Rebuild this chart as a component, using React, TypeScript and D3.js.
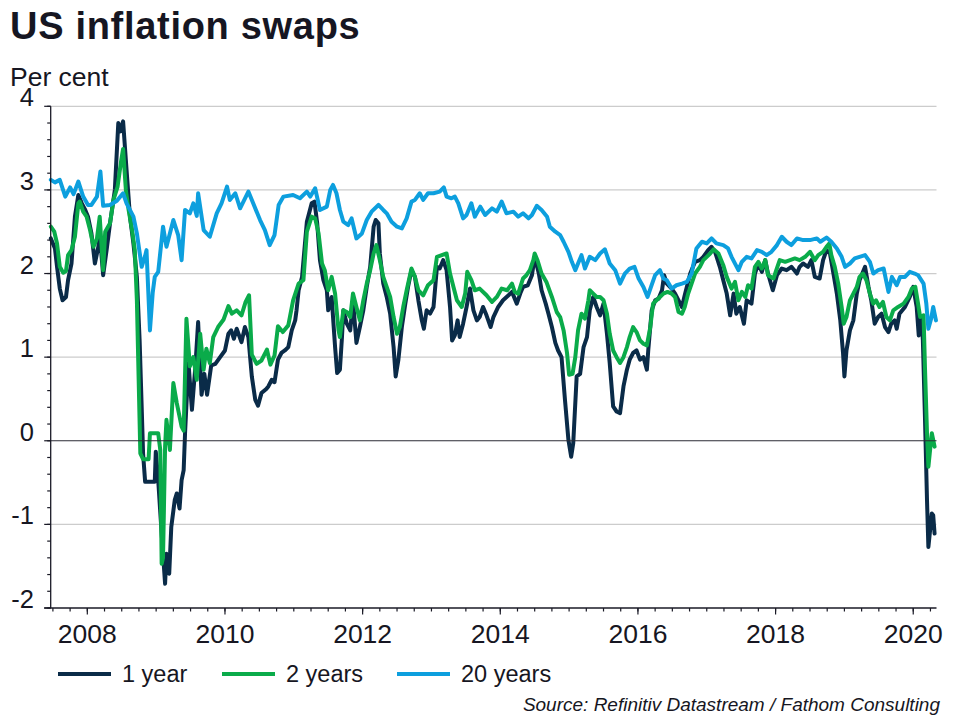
import React from "react";
import * as d3 from "d3";

// ---- Data (decimal year, per cent) ----
const oneYear: [number, number][] = [
  [2007.47,2.42],[2007.53,2.30],[2007.56,2.08],[2007.60,1.82],[2007.64,1.68],[2007.69,1.72],[2007.72,1.92],[2007.77,2.12],[2007.82,2.68],[2007.87,2.94],[2007.92,2.84],[2007.97,2.76],[2008.01,2.68],[2008.06,2.48],[2008.11,2.12],[2008.16,2.32],[2008.18,2.48],[2008.23,1.98],[2008.28,2.28],[2008.33,2.60],[2008.40,3.00],[2008.45,3.80],[2008.48,3.70],[2008.52,3.82],[2008.57,3.24],[2008.62,2.68],[2008.67,2.36],[2008.72,1.96],[2008.76,1.20],[2008.79,0.40],[2008.81,-0.15],[2008.84,-0.49],[2008.98,-0.49],[2008.995,-0.13],[2009.03,-0.47],[2009.08,-1.11],[2009.13,-1.71],[2009.15,-1.35],[2009.19,-1.59],[2009.22,-1.03],[2009.27,-0.71],[2009.30,-0.63],[2009.34,-0.81],[2009.37,-0.47],[2009.40,-0.35],[2009.42,0.09],[2009.47,0.93],[2009.52,0.37],[2009.57,0.89],[2009.61,1.42],[2009.66,0.55],[2009.70,0.80],[2009.74,0.55],[2009.80,0.90],[2009.86,0.92],[2009.93,1.00],[2010.00,1.08],[2010.05,1.28],[2010.09,1.32],[2010.13,1.22],[2010.17,1.34],[2010.24,1.18],[2010.29,1.36],[2010.34,1.24],[2010.39,0.77],[2010.44,0.49],[2010.48,0.42],[2010.53,0.57],[2010.60,0.62],[2010.63,0.65],[2010.68,0.73],[2010.72,0.70],[2010.77,0.97],[2010.82,1.05],[2010.87,1.08],[2010.92,1.12],[2010.97,1.32],[2011.02,1.44],[2011.04,1.56],[2011.07,1.80],[2011.12,1.96],[2011.19,2.62],[2011.26,2.84],[2011.30,2.86],[2011.34,2.60],[2011.38,2.16],[2011.43,1.92],[2011.48,1.80],[2011.50,1.56],[2011.55,1.72],[2011.60,1.12],[2011.63,0.81],[2011.67,0.85],[2011.70,1.24],[2011.72,1.56],[2011.77,1.40],[2011.82,1.32],[2011.86,1.68],[2011.91,1.17],[2011.96,1.36],[2012.01,1.56],[2012.06,1.84],[2012.11,2.08],[2012.16,2.56],[2012.19,2.64],[2012.23,2.60],[2012.25,2.24],[2012.30,1.88],[2012.35,1.72],[2012.40,1.52],[2012.45,1.12],[2012.48,0.77],[2012.52,0.97],[2012.57,1.36],[2012.62,1.64],[2012.66,1.84],[2012.71,2.04],[2012.76,1.96],[2012.81,1.68],[2012.86,1.44],[2012.89,1.34],[2012.93,1.56],[2012.98,1.52],[2013.03,1.60],[2013.08,2.08],[2013.12,2.06],[2013.17,2.16],[2013.22,2.04],[2013.27,1.60],[2013.30,1.20],[2013.34,1.26],[2013.38,1.44],[2013.41,1.24],[2013.46,1.40],[2013.51,1.60],[2013.56,1.82],[2013.61,1.56],[2013.66,1.44],[2013.70,1.48],[2013.75,1.60],[2013.80,1.50],[2013.86,1.36],[2013.90,1.48],[2013.97,1.60],[2014.04,1.68],[2014.12,1.74],[2014.17,1.78],[2014.21,1.70],[2014.24,1.64],[2014.29,1.76],[2014.33,1.84],[2014.40,1.86],[2014.46,1.98],[2014.50,2.20],[2014.56,2.00],[2014.60,1.80],[2014.66,1.64],[2014.70,1.52],[2014.75,1.36],[2014.80,1.17],[2014.84,1.08],[2014.89,1.00],[2014.94,0.49],[2014.99,0.01],[2015.03,-0.19],[2015.06,-0.03],[2015.11,0.77],[2015.16,0.80],[2015.21,1.12],[2015.26,1.24],[2015.30,1.56],[2015.35,1.72],[2015.40,1.60],[2015.45,1.50],[2015.50,1.64],[2015.55,1.28],[2015.59,0.93],[2015.64,0.41],[2015.69,0.35],[2015.74,0.33],[2015.79,0.65],[2015.84,0.85],[2015.88,0.97],[2015.93,1.05],[2015.98,1.08],[2016.03,0.97],[2016.08,1.00],[2016.13,0.85],[2016.15,1.08],[2016.20,1.56],[2016.25,1.68],[2016.30,1.70],[2016.35,1.80],[2016.38,1.98],[2016.42,1.88],[2016.49,1.82],[2016.54,1.76],[2016.59,1.68],[2016.64,1.60],[2016.68,1.74],[2016.76,2.00],[2016.83,2.14],[2016.90,2.16],[2016.95,2.20],[2017.02,2.28],[2017.07,2.32],[2017.12,2.26],[2017.19,2.08],[2017.24,1.92],[2017.29,1.76],[2017.34,1.50],[2017.39,1.76],[2017.43,1.52],[2017.48,1.60],[2017.54,1.40],[2017.58,1.68],[2017.65,1.64],[2017.70,2.00],[2017.75,2.12],[2017.80,2.02],[2017.85,2.16],[2017.89,2.00],[2017.96,1.80],[2018.02,1.98],[2018.09,2.06],[2018.16,2.04],[2018.23,2.08],[2018.31,2.00],[2018.35,2.08],[2018.40,2.12],[2018.47,2.08],[2018.52,2.16],[2018.57,1.96],[2018.64,1.94],[2018.69,2.16],[2018.74,2.28],[2018.79,2.24],[2018.84,2.00],[2018.89,1.76],[2018.94,1.44],[2018.98,1.05],[2019.00,0.77],[2019.03,1.08],[2019.08,1.32],[2019.13,1.44],[2019.18,1.76],[2019.22,1.92],[2019.30,2.08],[2019.35,1.84],[2019.39,1.68],[2019.44,1.40],[2019.49,1.48],[2019.54,1.52],[2019.59,1.36],[2019.64,1.30],[2019.68,1.40],[2019.73,1.44],[2019.76,1.34],[2019.80,1.52],[2019.88,1.60],[2019.95,1.72],[2020.00,1.84],[2020.05,1.60],[2020.08,1.26],[2020.12,1.48],[2020.14,1.20],[2020.17,0.29],[2020.20,-0.71],[2020.22,-1.27],[2020.24,-1.11],[2020.27,-0.87],[2020.29,-0.89],[2020.31,-1.11]
];

const twoYears: [number, number][] = [
  [2007.47,2.56],[2007.52,2.50],[2007.56,2.36],[2007.60,2.08],[2007.65,2.01],[2007.69,2.03],[2007.72,2.22],[2007.77,2.28],[2007.82,2.44],[2007.87,2.84],[2007.89,2.86],[2007.94,2.74],[2007.99,2.68],[2008.04,2.52],[2008.09,2.32],[2008.14,2.42],[2008.18,2.68],[2008.23,2.04],[2008.26,2.50],[2008.33,2.60],[2008.38,2.88],[2008.44,3.04],[2008.49,3.34],[2008.52,3.49],[2008.56,3.00],[2008.60,2.76],[2008.65,2.52],[2008.69,2.28],[2008.72,1.68],[2008.77,-0.15],[2008.81,-0.22],[2008.89,-0.22],[2008.91,0.09],[2009.03,0.09],[2009.06,-0.11],[2009.08,-1.47],[2009.10,-1.40],[2009.13,-0.07],[2009.15,0.25],[2009.20,-0.11],[2009.25,0.69],[2009.30,0.45],[2009.37,0.17],[2009.40,0.12],[2009.44,1.46],[2009.49,0.89],[2009.54,1.00],[2009.59,0.73],[2009.64,1.28],[2009.69,0.85],[2009.73,1.10],[2009.78,0.93],[2009.83,1.24],[2009.90,1.36],[2009.98,1.45],[2010.05,1.61],[2010.10,1.52],[2010.17,1.56],[2010.24,1.50],[2010.30,1.66],[2010.35,1.74],[2010.39,1.03],[2010.46,0.92],[2010.53,0.96],[2010.61,1.09],[2010.66,0.91],[2010.72,1.02],[2010.77,1.37],[2010.84,1.30],[2010.92,1.38],[2010.99,1.68],[2011.07,1.88],[2011.14,1.92],[2011.19,2.50],[2011.26,2.68],[2011.31,2.66],[2011.36,2.48],[2011.41,2.12],[2011.45,2.04],[2011.50,1.80],[2011.55,1.96],[2011.60,1.76],[2011.65,1.32],[2011.67,1.24],[2011.72,1.56],[2011.77,1.54],[2011.82,1.48],[2011.86,1.76],[2011.91,1.60],[2011.96,1.44],[2012.01,1.68],[2012.06,1.88],[2012.11,2.04],[2012.16,2.24],[2012.20,2.34],[2012.25,2.16],[2012.30,1.96],[2012.35,1.84],[2012.40,1.72],[2012.45,1.48],[2012.50,1.28],[2012.54,1.36],[2012.59,1.60],[2012.64,1.80],[2012.71,2.06],[2012.76,1.96],[2012.81,1.80],[2012.88,1.74],[2012.95,1.86],[2013.03,1.92],[2013.08,2.20],[2013.15,2.22],[2013.22,2.24],[2013.27,2.00],[2013.32,1.84],[2013.37,1.68],[2013.44,1.60],[2013.49,1.76],[2013.52,2.02],[2013.58,1.92],[2013.63,1.80],[2013.70,1.82],[2013.80,1.74],[2013.88,1.66],[2013.95,1.72],[2014.02,1.82],[2014.10,1.80],[2014.17,1.88],[2014.21,1.78],[2014.26,1.76],[2014.33,1.94],[2014.38,1.98],[2014.43,2.04],[2014.48,2.16],[2014.50,2.24],[2014.54,2.16],[2014.60,2.00],[2014.67,1.90],[2014.75,1.72],[2014.82,1.54],[2014.87,1.48],[2014.92,1.32],[2014.97,1.05],[2015.00,0.79],[2015.05,0.80],[2015.09,1.00],[2015.13,1.32],[2015.18,1.52],[2015.23,1.46],[2015.28,1.68],[2015.30,1.80],[2015.35,1.76],[2015.40,1.72],[2015.45,1.72],[2015.50,1.68],[2015.55,1.52],[2015.59,1.28],[2015.64,1.08],[2015.69,1.00],[2015.74,0.93],[2015.79,1.00],[2015.84,1.12],[2015.88,1.24],[2015.93,1.36],[2015.98,1.30],[2016.03,1.20],[2016.08,1.16],[2016.13,1.14],[2016.18,1.36],[2016.22,1.64],[2016.27,1.68],[2016.32,1.72],[2016.37,1.76],[2016.43,1.78],[2016.49,1.76],[2016.54,1.72],[2016.59,1.54],[2016.64,1.52],[2016.68,1.60],[2016.73,1.76],[2016.78,1.88],[2016.83,2.00],[2016.90,2.08],[2016.95,2.16],[2017.00,2.20],[2017.05,2.24],[2017.10,2.29],[2017.17,2.24],[2017.21,2.16],[2017.24,2.10],[2017.29,1.96],[2017.36,1.82],[2017.41,1.90],[2017.46,1.68],[2017.51,1.78],[2017.56,1.72],[2017.60,1.86],[2017.65,1.82],[2017.70,2.08],[2017.75,2.14],[2017.80,2.06],[2017.85,2.16],[2017.89,1.98],[2017.97,1.94],[2018.01,2.04],[2018.06,2.16],[2018.14,2.14],[2018.21,2.16],[2018.28,2.18],[2018.35,2.16],[2018.43,2.20],[2018.50,2.26],[2018.57,2.16],[2018.62,2.22],[2018.69,2.26],[2018.74,2.32],[2018.78,2.36],[2018.81,2.22],[2018.86,2.08],[2018.91,1.88],[2018.96,1.60],[2018.99,1.40],[2019.03,1.48],[2019.08,1.68],[2019.13,1.76],[2019.18,1.84],[2019.22,1.96],[2019.27,2.00],[2019.32,1.92],[2019.37,1.76],[2019.42,1.64],[2019.46,1.68],[2019.51,1.60],[2019.56,1.66],[2019.61,1.48],[2019.66,1.44],[2019.71,1.56],[2019.78,1.60],[2019.86,1.64],[2019.93,1.72],[2019.98,1.82],[2020.03,1.84],[2020.07,1.64],[2020.10,1.48],[2020.15,1.50],[2020.17,0.89],[2020.20,0.09],[2020.22,-0.31],[2020.24,-0.15],[2020.27,0.09],[2020.29,0.01],[2020.31,-0.07]
];

const twentyYears: [number, number][] = [
  [2007.47,3.12],[2007.53,3.09],[2007.60,3.12],[2007.68,2.92],[2007.75,3.03],[2007.80,2.95],[2007.87,3.10],[2007.94,2.92],[2008.01,2.82],[2008.06,2.82],[2008.14,2.92],[2008.19,3.22],[2008.23,2.81],[2008.33,2.82],[2008.43,2.87],[2008.52,2.96],[2008.57,2.84],[2008.67,2.68],[2008.72,2.48],[2008.79,2.08],[2008.84,2.21],[2008.86,2.28],[2008.91,1.32],[2008.95,1.77],[2008.98,1.96],[2009.03,2.02],[2009.10,2.56],[2009.15,2.32],[2009.25,2.64],[2009.32,2.46],[2009.37,2.16],[2009.42,2.76],[2009.49,2.72],[2009.54,2.84],[2009.59,2.69],[2009.61,2.96],[2009.69,2.52],[2009.78,2.44],[2009.88,2.72],[2009.95,2.84],[2010.03,3.04],[2010.07,2.88],[2010.15,2.96],[2010.22,2.78],[2010.34,2.98],[2010.41,2.84],[2010.51,2.64],[2010.58,2.52],[2010.65,2.34],[2010.72,2.46],[2010.78,2.82],[2010.85,2.92],[2010.99,2.94],[2011.09,2.90],[2011.19,2.98],[2011.24,2.92],[2011.31,3.02],[2011.38,2.76],[2011.48,2.80],[2011.53,3.00],[2011.57,3.06],[2011.62,2.96],[2011.67,2.76],[2011.72,2.62],[2011.79,2.58],[2011.84,2.66],[2011.91,2.42],[2011.99,2.48],[2012.06,2.64],[2012.13,2.74],[2012.23,2.82],[2012.30,2.76],[2012.35,2.72],[2012.42,2.62],[2012.50,2.56],[2012.57,2.54],[2012.64,2.66],[2012.71,2.86],[2012.76,2.88],[2012.83,2.96],[2012.88,2.88],[2012.95,2.96],[2013.03,2.96],[2013.12,2.98],[2013.18,3.03],[2013.22,2.92],[2013.29,2.90],[2013.34,2.92],[2013.39,2.84],[2013.46,2.66],[2013.51,2.70],[2013.58,2.84],[2013.63,2.68],[2013.71,2.80],[2013.78,2.70],[2013.88,2.78],[2013.95,2.74],[2014.02,2.86],[2014.09,2.72],[2014.19,2.74],[2014.26,2.68],[2014.33,2.72],[2014.41,2.66],[2014.46,2.70],[2014.53,2.81],[2014.60,2.76],[2014.68,2.68],[2014.72,2.56],[2014.80,2.50],[2014.87,2.46],[2014.92,2.38],[2014.99,2.26],[2015.04,2.14],[2015.09,2.04],[2015.13,2.12],[2015.18,2.22],[2015.23,2.06],[2015.30,2.20],[2015.38,2.16],[2015.45,2.24],[2015.52,2.29],[2015.59,2.12],[2015.67,2.04],[2015.74,1.88],[2015.81,2.00],[2015.88,2.06],[2015.95,2.08],[2016.01,1.94],[2016.08,1.84],[2016.14,1.72],[2016.19,1.84],[2016.25,1.98],[2016.32,2.04],[2016.37,1.94],[2016.42,1.92],[2016.49,1.82],[2016.56,1.86],[2016.64,1.88],[2016.71,1.90],[2016.78,2.00],[2016.85,2.30],[2016.93,2.38],[2017.00,2.36],[2017.07,2.42],[2017.14,2.36],[2017.24,2.34],[2017.31,2.30],[2017.36,2.20],[2017.46,2.04],[2017.51,2.14],[2017.58,2.20],[2017.65,2.18],[2017.73,2.28],[2017.80,2.26],[2017.87,2.22],[2017.94,2.26],[2018.02,2.34],[2018.09,2.44],[2018.16,2.38],[2018.23,2.34],[2018.31,2.42],[2018.40,2.40],[2018.50,2.40],[2018.60,2.42],[2018.65,2.38],[2018.74,2.43],[2018.81,2.38],[2018.89,2.30],[2018.96,2.20],[2019.01,2.08],[2019.08,2.12],[2019.15,2.18],[2019.22,2.20],[2019.30,2.22],[2019.37,2.14],[2019.42,2.00],[2019.49,2.04],[2019.57,2.06],[2019.61,1.90],[2019.64,1.78],[2019.69,1.96],[2019.76,1.86],[2019.81,1.96],[2019.88,1.96],[2019.95,2.02],[2020.02,2.00],[2020.07,1.98],[2020.15,1.88],[2020.19,1.64],[2020.22,1.34],[2020.26,1.46],[2020.29,1.60],[2020.31,1.52],[2020.33,1.44]
];

const seriesNames = ["1 year", "2 years", "20 years"];
const seriesColors = ["#0a2b48", "#0aab4a", "#0d9fde"];
const yTicks = [-2, -1, 0, 1, 2, 3, 4];
const xLabelYears = [2008, 2010, 2012, 2014, 2016, 2018, 2020];
const xDomain: [number, number] = [2007.468, 2020.338];
const yDomain: [number, number] = [-2, 4];

const FONT = "'Liberation Sans', Arial, Helvetica, sans-serif";
const TEXT = "#161622";

export default function App() {
  const W = 960, H = 720;
  const x = d3.scaleLinear().domain(xDomain).range([50.7, 936.5]);
  const y = d3.scaleLinear().domain(yDomain).range([608, 106.3]);
  const line = d3.line<[number, number]>().x(d => x(d[0])).y(d => y(d[1])).curve(d3.curveLinear);
  const all = [oneYear, twoYears, twentyYears];

  const minorY = d3.range(-2, 4.0001, 0.2);
  const quarterTicks = d3.range(2007.5, 2020.3, 0.25);
  const [x0, x1] = x.range();

  return (
    <svg width={W} height={H} style={{ position: "absolute", left: 0, top: 0, background: "#fff" }} fontFamily={FONT}>
      <rect width={W} height={H} fill="#fff" />
      <text x={10} y={39} fontSize={38} fontWeight="bold" fill={TEXT} letterSpacing={0.7}>US inflation swaps</text>
      <text x={10} y={86} fontSize={26.5} fill={TEXT}>Per cent</text>

      {/* gridlines */}
      {yTicks.filter(t => t !== 0 && t !== -2).map(t => (
        <line key={"g" + t} x1={x0} x2={x1} y1={y(t)} y2={y(t)} stroke="#cccccc" strokeWidth={1.2} />
      ))}

      {/* series */}
      {all.map((s, i) => (
        <path key={"s" + i} d={line(s) || ""} fill="none" stroke={seriesColors[i]} strokeWidth={4} strokeLinejoin="round" strokeLinecap="round" />
      ))}

      {/* zero line */}
      <line x1={x0} x2={x1} y1={y(0)} y2={y(0)} stroke="#2b2b35" strokeWidth={1.2} />

      {/* y axis */}
      <line x1={x0} x2={x0} y1={y(4)} y2={y(-2)} stroke="#1a1a26" strokeWidth={1.3} />
      {minorY.map((t, i) => (
        <line key={"my" + i} x1={x0 - 3.5} x2={x0} y1={y(t)} y2={y(t)} stroke="#1a1a26" strokeWidth={1.2} />
      ))}
      {yTicks.map(t => (
        <g key={"yt" + t}>
          <line x1={x0 - 6.5} x2={x0} y1={y(t)} y2={y(t)} stroke="#1a1a26" strokeWidth={1.2} />
          <text x={34} y={y(t)} textAnchor="end" fontSize={25.5} fill={TEXT}>{t}</text>
        </g>
      ))}

      {/* x axis */}
      <line x1={x0 - 6.5} x2={x1} y1={y(-2)} y2={y(-2)} stroke="#1a1a26" strokeWidth={1.3} />
      {quarterTicks.map((t, i) => (
        <line key={"q" + i} x1={x(t)} x2={x(t)} y1={y(-2)} y2={y(-2) + 3.5} stroke="#1a1a26" strokeWidth={1.2} />
      ))}
      {xLabelYears.map(t => (
        <g key={"xl" + t}>
          <line x1={x(t)} x2={x(t)} y1={y(-2)} y2={y(-2) + 6.5} stroke="#1a1a26" strokeWidth={1.2} />
          <text x={x(t)} y={643} textAnchor="middle" fontSize={26.5} fill={TEXT}>{t}</text>
        </g>
      ))}

      {/* legend */}
      {seriesNames.map((n, i) => {
        const lx = [58, 222, 397][i];
        return (
          <g key={"lg" + i}>
            <line x1={lx} x2={lx + 53} y1={674} y2={674} stroke={seriesColors[i]} strokeWidth={4} />
            <text x={lx + 64} y={682} fontSize={23.5} fill={TEXT}>{n}</text>
          </g>
        );
      })}

      <text x={940} y={711} textAnchor="end" fontSize={19} fontStyle="italic" fill={TEXT}>Source: Refinitiv Datastream / Fathom Consulting</text>
    </svg>
  );
}
